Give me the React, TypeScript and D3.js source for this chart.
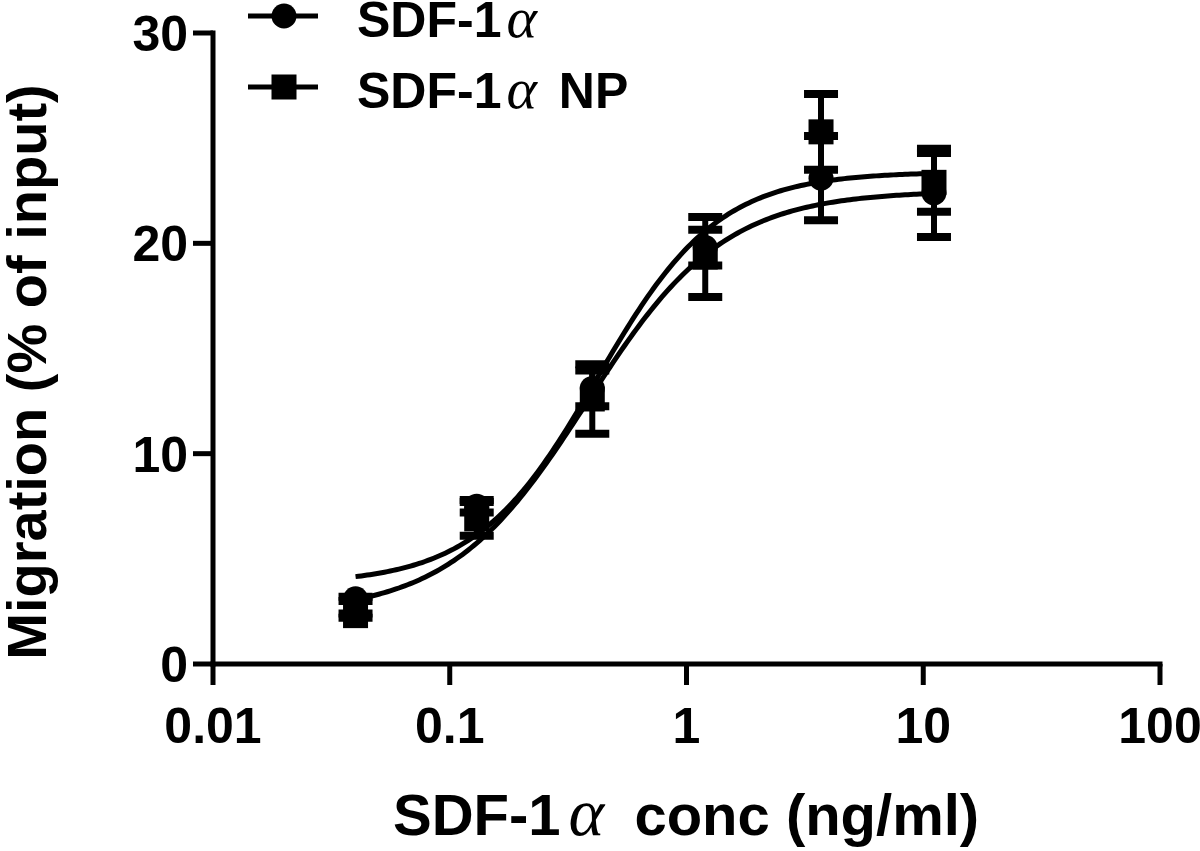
import React from "react";
import * as d3 from "d3";

// ---- data ----
const conc = [0.04, 0.13, 0.4, 1.2, 3.7, 11.1];
const sdfMean = [3.1, 7.5, 13.1, 19.8, 23.1, 22.4];
const sdfErr = [0.1, 0.3, 0.85, 0.85, 2.0, 2.1];
const npMean = [2.3, 6.9, 12.6, 19.35, 25.3, 22.9];
const npErr = [0.1, 0.8, 1.65, 1.9, 1.8, 1.4];

// four-parameter logistic fits (bottom, top, logEC50, hill)
const sdfFit = [2.4, 22.5, -0.42, 1.5];
const npFit = [3.8, 23.4, -0.377, 1.7];

const xTicks = [0.01, 0.1, 1, 10, 100];
const xTickLabels = ["0.01", "0.1", "1", "10", "100"];
const yTicks = [0, 10, 20, 30];

const W = 1200;
const H = 851;

const x = d3.scaleLog().domain([0.01, 100]).range([213, 1160]);
const y = d3.scaleLinear().domain([0, 30]).range([664, 33]);

function fitCurve(p: number[]) {
  const [b, t, l, h] = p;
  const lo = Math.log10(conc[0]);
  const hi = Math.log10(conc[conc.length - 1]);
  const pts: [number, number][] = [];
  const n = 200;
  for (let i = 0; i <= n; i++) {
    const lx = lo + ((hi - lo) * i) / n;
    const v = b + (t - b) / (1 + Math.pow(10, (l - lx) * h));
    pts.push([Math.pow(10, lx), v]);
  }
  return pts;
}

const line = d3
  .line<[number, number]>()
  .x((d) => x(d[0]))
  .y((d) => y(d[1]));

const FONT = "'Liberation Sans', Arial, sans-serif";
const SERIF = "'Liberation Serif', 'Times New Roman', serif";

function Alpha({ before, size }: { before: number; size: number }) {
  return (
    <tspan
      dx={before}
      fontFamily={SERIF}
      fontStyle="italic"
      fontWeight="normal"
      fontSize={size}
    >
      α
    </tspan>
  );
}

function ErrorBars({ mean, err }: { mean: number[]; err: number[] }) {
  const cap = 17;
  return (
    <g stroke="#000" strokeWidth={6}>
      {conc.map((c, i) => {
        const cx = x(c);
        const y1 = y(mean[i] + err[i]);
        const y2 = y(mean[i] - err[i]);
        return (
          <g key={i}>
            <line x1={cx} x2={cx} y1={y1} y2={y2} />
            <line x1={cx - cap} x2={cx + cap} y1={y1} y2={y1} strokeWidth={8} />
            <line x1={cx - cap} x2={cx + cap} y1={y2} y2={y2} strokeWidth={8} />
          </g>
        );
      })}
    </g>
  );
}

export default function App() {
  return (
    <svg
      width={W}
      height={H}
      viewBox={`0 0 ${W} ${H}`}
      style={{ position: "absolute", left: 0, top: 0, background: "#fff" }}
    >
      <rect width={W} height={H} fill="#fff" />
      {/* axes */}
      <g stroke="#000" strokeWidth={5} fill="none">
        <line x1={213} x2={213} y1={y(30) - 2.5} y2={y(0) + 2.5} />
        <line x1={213 - 2.5} x2={1160 + 2.5} y1={y(0)} y2={y(0)} />
        {yTicks.map((t) => (
          <line key={t} x1={193} x2={213} y1={y(t)} y2={y(t)} />
        ))}
        {xTicks.map((t) => (
          <line key={t} x1={x(t)} x2={x(t)} y1={y(0)} y2={y(0) + 21} />
        ))}
      </g>
      <g fontFamily={FONT} fontWeight="bold" fontSize={50} fill="#000">
        {yTicks.map((t) => (
          <text key={t} x={188} y={y(t) + 18} textAnchor="end">
            {t}
          </text>
        ))}
        {xTicks.map((t, i) => (
          <text key={t} x={x(t)} y={743} textAnchor="middle">
            {xTickLabels[i]}
          </text>
        ))}
      </g>
      {/* axis titles */}
      <text
        x={393}
        y={835}
        fontFamily={FONT}
        fontWeight="bold"
        fontSize={58}
        fill="#000"
      >
        SDF-1<Alpha before={8} size={68} />
        <tspan dx={14}> conc (ng/ml)</tspan>
      </text>
      <text
        transform={`translate(46, 372) rotate(-90)`}
        textAnchor="middle"
        fontFamily={FONT}
        fontWeight="bold"
        fontSize={56}
        fill="#000"
      >
        Migration (% of input)
      </text>

      {/* fit curves */}
      <path d={line(fitCurve(sdfFit)) || ""} fill="none" stroke="#000" strokeWidth={5} />
      <path d={line(fitCurve(npFit)) || ""} fill="none" stroke="#000" strokeWidth={5} />

      {/* error bars */}
      <ErrorBars mean={sdfMean} err={sdfErr} />
      <ErrorBars mean={npMean} err={npErr} />

      {/* markers */}
      {conc.map((c, i) => (
        <rect
          key={"s" + i}
          x={x(c) - 12.5}
          y={y(npMean[i]) - 12.5}
          width={25}
          height={25}
          fill="#000"
        />
      ))}
      {conc.map((c, i) => (
        <circle key={"c" + i} cx={x(c)} cy={y(sdfMean[i])} r={12.5} fill="#000" />
      ))}

      {/* legend */}
      <g>
        <line x1={248} x2={318} y1={16} y2={16} stroke="#000" strokeWidth={5} />
        <circle cx={284} cy={16} r={12.5} fill="#000" />
        <line x1={248} x2={318} y1={87} y2={87} stroke="#000" strokeWidth={5} />
        <rect x={271.5} y={74.5} width={25} height={25} fill="#000" />
        <g fontFamily={FONT} fontWeight="bold" fontSize={50} fill="#000">
          <text x={357} y={37}>
            SDF-1<Alpha before={5} size={58} />
          </text>
          <text x={357} y={108}>
            SDF-1<Alpha before={5} size={58} />
            <tspan dx={8}> NP</tspan>
          </text>
        </g>
      </g>
    </svg>
  );
}
